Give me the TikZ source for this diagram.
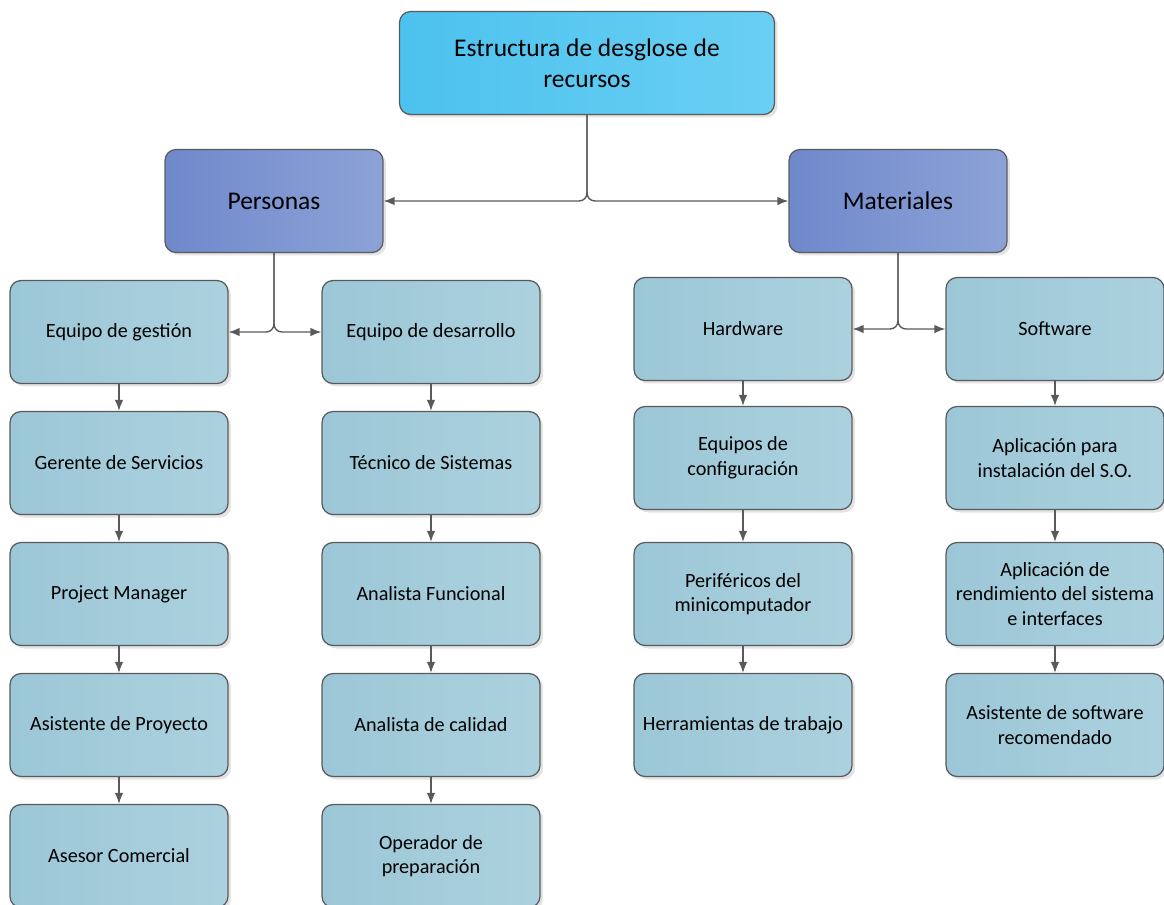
\documentclass[tikz,border=0pt]{standalone}
\usepackage{fontspec}
\setmainfont{Carlito}
\usetikzlibrary{arrows.meta,shadows}
\tikzset{>={Latex[length=2.2mm,width=1.7mm]}}
\definecolor{linegray}{HTML}{5A5A5E}
\definecolor{rootL}{HTML}{4CC2EE}
\definecolor{rootR}{HTML}{6ACFF3}
\definecolor{groupL}{HTML}{7089CB}
\definecolor{groupR}{HTML}{8CA2D7}
\definecolor{leafL}{HTML}{9CC7D7}
\definecolor{leafR}{HTML}{ACD1DE}
\tikzset{
  box/.style={draw=linegray, line width=0.7pt, rounded corners=0.22cm,
    minimum width=4.36cm, minimum height=2.06cm, align=center,
    drop shadow={shadow xshift=0.6mm, shadow yshift=-0.6mm, opacity=0.22}},
  rootbox/.style={box, minimum width=7.5cm, left color=rootL, right color=rootR,
    font=\fontsize{14.5}{17.5}\selectfont},
  groupbox/.style={box, left color=groupL, right color=groupR,
    font=\fontsize{14.5}{17.5}\selectfont},
  leaf/.style={box, left color=leafL, right color=leafR,
    font=\fontsize{11.5}{14}\selectfont},
  link/.style={draw=linegray, line width=0.8pt, ->, rounded corners=0.16cm}
}

\begin{document}
\begin{tikzpicture}[x=0.02cm,y=-0.02cm]
  \useasboundingbox (0,0) rectangle (1164,904);
  % top levels
  \node[rootbox] (res) at (587,63) {Estructura de desglose de\\recursos};
  \node[groupbox] (pers) at (274,201) {Personas};
  \node[groupbox] (mat) at (898,201) {Materiales};
  % personas
  \node[leaf] (gest) at (119,332) {Equipo de gestión};
  \node[leaf] (ger)  at (119,463) {Gerente de Servicios};
  \node[leaf] (pm)   at (119,594) {Project Manager};
  \node[leaf] (asis) at (119,725) {Asistente de Proyecto};
  \node[leaf] (ases) at (119,856) {Asesor Comercial};
  \node[leaf] (des)  at (431,332) {Equipo de desarrollo};
  \node[leaf] (tec)  at (431,463) {Técnico de Sistemas};
  \node[leaf] (func) at (431,594) {Analista Funcional};
  \node[leaf] (cal)  at (431,725) {Analista de calidad};
  \node[leaf] (oper) at (431,856) {Operador de\\preparación};
  % materiales
  \node[leaf] (hw)   at (743,329) {Hardware};
  \node[leaf] (conf) at (743,458) {Equipos de\\configuración};
  \node[leaf] (peri) at (743,594) {Periféricos del\\minicomputador};
  \node[leaf] (herr) at (743,725) {Herramientas de trabajo};
  \node[leaf] (sw)   at (1055,329) {Software};
  \node[leaf] (inst) at (1055,458) {Aplicación para\\instalación del S.O.};
  \node[leaf] (rend) at (1055,594) {Aplicación de\\rendimiento del sistema\\e interfaces};
  \node[leaf] (asw)  at (1055,725) {Asistente de software\\recomendado};
  % branches
  \draw[link] (res.south) |- (pers.east);
  \draw[link] (res.south) |- (mat.west);
  \draw[link] (pers.south) |- (gest.east);
  \draw[link] (pers.south) |- (des.west);
  \draw[link] (mat.south) |- (hw.east);
  \draw[link] (mat.south) |- (sw.west);
  % chains
  \foreach \a/\b in {gest/ger,ger/pm,pm/asis,asis/ases,des/tec,tec/func,func/cal,cal/oper,
                     hw/conf,conf/peri,peri/herr,sw/inst,inst/rend,rend/asw}
    \draw[link] (\a.south) -- (\b.north);
\end{tikzpicture}
\end{document}
